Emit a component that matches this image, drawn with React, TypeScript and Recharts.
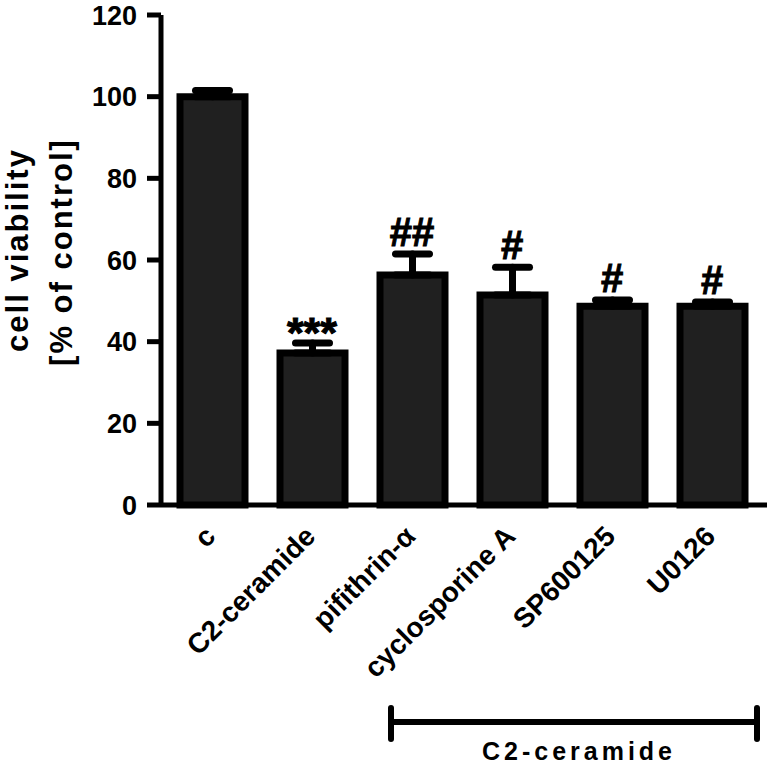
import React from 'react';
import {
  ComposedChart,
  Bar,
  Line,
  ErrorBar,
  LabelList,
  XAxis,
  YAxis,
} from 'recharts';

const categories = ['c', 'C2-ceramide', 'pifithrin-\u03b1', 'cyclosporine A', 'SP600125', 'U0126'];
const viability = [100, 37.2, 56.3, 51.4, 48.7, 48.7];
const sem = [1.5, 2.5, 5.2, 6.8, 1.5, 1.0];
const marks = ['', '***', '##', '#', '#', '#'];
const yTicks = [0, 20, 40, 60, 80, 100, 120];

const data = categories.map((name, i) => ({
  name,
  value: viability[i],
  err: [0, sem[i]],
  top: viability[i] + sem[i],
  mark: marks[i],
}));

const FONT = '"Liberation Sans", Arial, sans-serif';

function XTick({ x, y, payload }: any) {
  return (
    <text
      transform={`translate(${x + 5},${y + 33}) rotate(-45)`}
      textAnchor="end"
      fontFamily={FONT}
      fontWeight="bold"
      fontSize={28}
      fill="#000"
    >
      {payload.value}
    </text>
  );
}

function MarkLabel({ x, y, value }: any) {
  if (!value) return null;
  const stars = value.indexOf('*') >= 0;
  return (
    <text
      x={x}
      y={stars ? y + 4 : y - 8}
      textAnchor="middle"
      fontFamily={FONT}
      fontWeight="bold"
      fontSize={stars ? 43 : 40}
      stroke="#000"
      strokeWidth={1}
      fill="#000"
    >
      {value}
    </text>
  );
}

export default function App() {
  return (
    <div style={{ position: 'absolute', left: 0, top: 0, width: 767, height: 765, background: '#fff' }}>
      <ComposedChart
        width={767}
        height={765}
        data={data}
        margin={{ top: 15, right: 0, bottom: 0, left: 0 }}
      >
        <XAxis
          dataKey="name"
          height={260}
          padding={{ left: 1, right: 5 }}
          axisLine={{ stroke: '#000', strokeWidth: 5 }}
          tickLine={false}
          tickSize={0}
          tickMargin={0}
          interval={0}
          tick={<XTick />}
        />
        <YAxis
          width={161}
          domain={[0, 120]}
          ticks={yTicks}
          axisLine={{ stroke: '#000', strokeWidth: 5 }}
          tickLine={{ stroke: '#000', strokeWidth: 5 }}
          tickSize={14}
          tickMargin={10}
          tick={{ fill: '#000', fontSize: 27, fontWeight: 'bold', fontFamily: FONT }}
        />
        <Bar
          dataKey="value"
          barSize={65}
          fill="#202020"
          stroke="#000"
          strokeWidth={7}
          isAnimationActive={false}
        >
          <ErrorBar
            dataKey="err"
            width={17}
            stroke="#000"
            strokeWidth={7}
            strokeLinecap="round"
            isAnimationActive={false}
          />
        </Bar>
        <Line
          dataKey="top"
          stroke="none"
          dot={false}
          activeDot={false}
          isAnimationActive={false}
        >
          <LabelList dataKey="mark" content={<MarkLabel />} />
        </Line>
      </ComposedChart>
      <svg
        width={767}
        height={765}
        style={{ position: 'absolute', left: 0, top: 0, pointerEvents: 'none' }}
        fontFamily={FONT}
        fontWeight="bold"
      >
        <text transform="translate(28,250) rotate(-90)" textAnchor="middle" fontSize={31} letterSpacing={2} fill="#000">
          cell viability
        </text>
        <text transform="translate(72,252) rotate(-90)" textAnchor="middle" fontSize={31} letterSpacing={2} fill="#000">
          [% of control]
        </text>
        <g stroke="#000" strokeWidth={6} strokeLinecap="round">
          <line x1={391} y1={722} x2={757} y2={722} />
          <line x1={391} y1={708} x2={391} y2={739} />
          <line x1={757} y1={708} x2={757} y2={739} />
        </g>
        <text x={579} y={760} textAnchor="middle" fontSize={25} letterSpacing={4} fill="#000">
          C2-ceramide
        </text>
      </svg>
    </div>
  );
}
